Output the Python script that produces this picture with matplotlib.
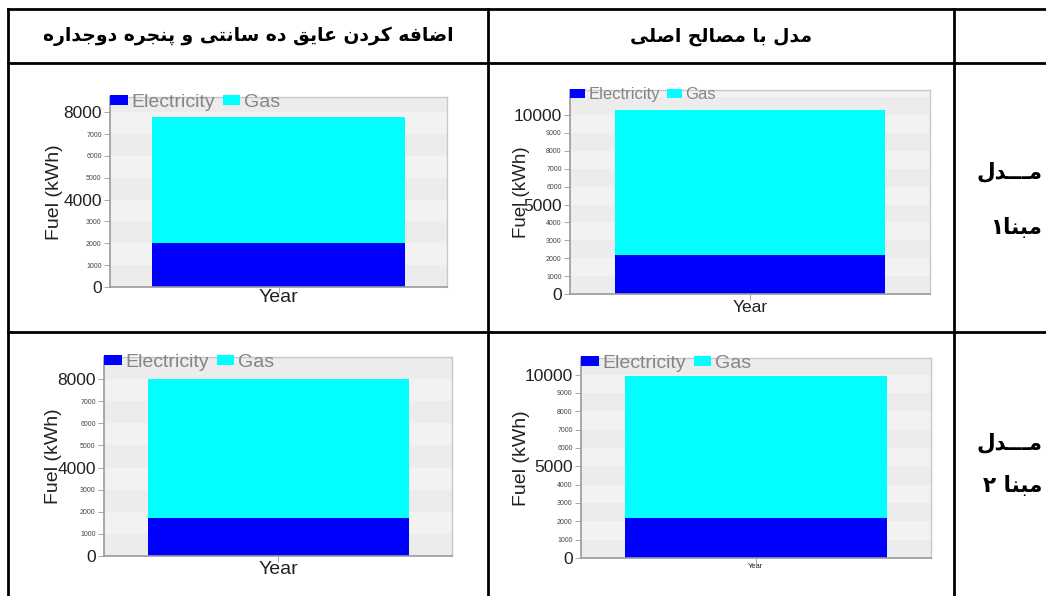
import matplotlib
matplotlib.use('Agg')
import matplotlib.pyplot as plt
from matplotlib.lines import Line2D

# --- Data (kWh) ---
# panel order: insulated model 1, original model 1, insulated model 2, original model 2
electricity = [2000, 2200, 1700, 2200]
gas = [5800, 8100, 6300, 7700]
y_max = [8700, 11400, 9000, 10900]
major_ticks = [[0, 4000, 8000], [0, 5000, 10000], [0, 4000, 8000], [0, 5000, 10000]]
series_labels = ['Electricity', 'Gas']
x_label = 'Year'
y_label = 'Fuel (kWh)'

header_left = 'اضافه کردن عایق ده سانتی و پنجره دوجداره'
header_mid = 'مدل با مصالح اصلی'
row_labels = [('مـــدل', 'مبنا۱'), ('مـــدل', 'مبنا ۲')]

# --- Layout (pixels in a 1046x596 figure) ---
W, H = 1046, 596
# left, right, top, bottom of each plot area
boxes = [(110, 447, 97, 287), (570, 930, 90, 294), (104, 452, 357, 556), (581, 931, 358, 558)]
year_y = [298, 308, 570, 567]
year_size = [14, 12.5, 14, 5.5]
ylab_x = [55, 522, 53, 521]
ylab_size = [14, 13.5, 14, 14]
leg_size = [14, 12, 14, 14]

ELEC_COLOR = '#0000ff'
GAS_COLOR = '#00ffff'

# --- minimal Arabic/Persian shaping (matplotlib has no text shaping) ---
FORMS = {
    '\u0627': ('\uFE8D', '\uFE8E', None, None),
    '\u0628': ('\uFE8F', '\uFE90', '\uFE91', '\uFE92'),
    '\u067E': ('\uFB56', '\uFB57', '\uFB58', '\uFB59'),
    '\u062A': ('\uFE95', '\uFE96', '\uFE97', '\uFE98'),
    '\u062C': ('\uFE9D', '\uFE9E', '\uFE9F', '\uFEA0'),
    '\u062D': ('\uFEA1', '\uFEA2', '\uFEA3', '\uFEA4'),
    '\u062F': ('\uFEA9', '\uFEAA', None, None),
    '\u0631': ('\uFEAD', '\uFEAE', None, None),
    '\u0633': ('\uFEB1', '\uFEB2', '\uFEB3', '\uFEB4'),
    '\u0635': ('\uFEB9', '\uFEBA', '\uFEBB', '\uFEBC'),
    '\u0636': ('\uFEBD', '\uFEBE', '\uFEBF', '\uFEC0'),
    '\u0639': ('\uFEC9', '\uFECA', '\uFECB', '\uFECC'),
    '\u0641': ('\uFED1', '\uFED2', '\uFED3', '\uFED4'),
    '\u0642': ('\uFED5', '\uFED6', '\uFED7', '\uFED8'),
    '\u06A9': ('\uFB8E', '\uFB8F', '\uFB90', '\uFB91'),
    '\u0644': ('\uFEDD', '\uFEDE', '\uFEDF', '\uFEE0'),
    '\u0645': ('\uFEE1', '\uFEE2', '\uFEE3', '\uFEE4'),
    '\u0646': ('\uFEE5', '\uFEE6', '\uFEE7', '\uFEE8'),
    '\u0647': ('\uFEE9', '\uFEEA', '\uFEEB', '\uFEEC'),
    '\u0648': ('\uFEED', '\uFEEE', None, None),
    '\u06CC': ('\uFBFC', '\uFBFD', '\uFBFE', '\uFBFF'),
    '\u0640': ('\u0640', '\u0640', '\u0640', '\u0640'),
}


def shape(text):
    out = []
    for i, ch in enumerate(text):
        if ch not in FORMS:
            out.append(ch)
            continue
        prev = text[i - 1] if i > 0 else ''
        nxt = text[i + 1] if i + 1 < len(text) else ''
        join_prev = prev in FORMS and FORMS[prev][2] is not None
        join_next = FORMS[ch][2] is not None and nxt in FORMS
        isol, fin, ini, med = FORMS[ch]
        if join_prev and join_next:
            out.append(med)
        elif join_prev:
            out.append(fin)
        elif join_next:
            out.append(ini)
        else:
            out.append(isol)
    return ''.join(reversed(out))


plt.rcParams['font.family'] = ['Liberation Sans', 'DejaVu Sans']
fa_font = dict(family=['DejaVu Sans'], weight='bold')

fig = plt.figure(figsize=(W / 100, H / 100), dpi=100)
fig.patch.set_facecolor('white')


def fx(px):
    return px / W


def fy(py):
    return 1 - py / H


# --- table grid ---
lw = 2.0
for y in (9, 63, 332):
    fig.add_artist(Line2D([fx(8), 1.0], [fy(y), fy(y)], color='black', lw=lw))
for x in (8, 488, 954):
    fig.add_artist(Line2D([fx(x), fx(x)], [fy(9), 0.0], color='black', lw=lw))

fig.text(fx(248), fy(36), shape(header_left), ha='center', va='center', fontsize=13.5, **fa_font)
fig.text(fx(721), fy(36), shape(header_mid), ha='center', va='center', fontsize=13.5, **fa_font)
for (l1, l2), (y1, y2) in zip(row_labels, [(172, 227), (443, 486)]):
    fig.text(fx(1042), fy(y1), shape(l1), ha='right', va='center', fontsize=15.5, **fa_font)
    fig.text(fx(1042), fy(y2), shape(l2), ha='right', va='center', fontsize=15.5, **fa_font)

# --- the four charts ---
for i, (l, r, t, b) in enumerate(boxes):
    ax = fig.add_axes([fx(l), fy(b), (r - l) / W, (b - t) / H])
    ax.set_facecolor('#ececec')
    step = 1000
    for k in range(0, int(y_max[i] // step) + 1, 2):
        ax.axhspan(k * step + step, k * step + 2 * step, color='#f2f2f2', lw=0, zorder=0)

    ax.bar([0], [electricity[i]], width=0.75, color=ELEC_COLOR, label=series_labels[0], zorder=2)
    ax.bar([0], [gas[i]], width=0.75, bottom=[electricity[i]], color=GAS_COLOR,
           label=series_labels[1], zorder=2)

    ax.set_xlim(-0.5, 0.5)
    ax.set_ylim(0, y_max[i])

    top_major = max(major_ticks[i])
    minors = [v for v in range(1000, top_major, 1000) if v not in major_ticks[i]]
    ax.set_yticks(major_ticks[i])
    ax.set_yticklabels([str(v) for v in major_ticks[i]], fontsize=12.5, color='#222222')
    ax.set_yticks(minors, minor=True)
    ax.set_yticklabels([str(v) for v in minors], minor=True, fontsize=5, color='#444444')
    ax.tick_params(axis='y', which='both', length=4, width=0.6, color='#999999', pad=2)
    ax.set_xticks([0])
    ax.set_xticklabels([''])
    ax.tick_params(axis='x', length=4, width=0.6, color='#999999')

    for side in ('left', 'bottom'):
        ax.spines[side].set_color('#9a9a9a')
        ax.spines[side].set_linewidth(1.2)
    for side in ('top', 'right'):
        ax.spines[side].set_color('#c8c8c8')
        ax.spines[side].set_linewidth(1.0)

    ax.set_xlabel(x_label, fontsize=year_size[i], color='#222222')
    ax.xaxis.set_label_coords(0.5, -(year_y[i] - b) / (b - t))
    ax.xaxis.label.set_va('center')
    ax.set_ylabel(y_label, fontsize=ylab_size[i], color='#222222')
    ax.yaxis.set_label_coords(-(l - ylab_x[i]) / (r - l), 0.5)
    ax.yaxis.label.set_va('center')

    leg = ax.legend(loc='upper left', bbox_to_anchor=(0.0, 1.0 + 3 / (b - t)), ncol=2,
                    frameon=False, fontsize=leg_size[i], handlelength=0.9, handleheight=0.45,
                    handletextpad=0.2, columnspacing=0.4, borderaxespad=0, borderpad=0)
    for txt in leg.get_texts():
        txt.set_color('#858585')

fig.savefig('out.png', dpi=100)
